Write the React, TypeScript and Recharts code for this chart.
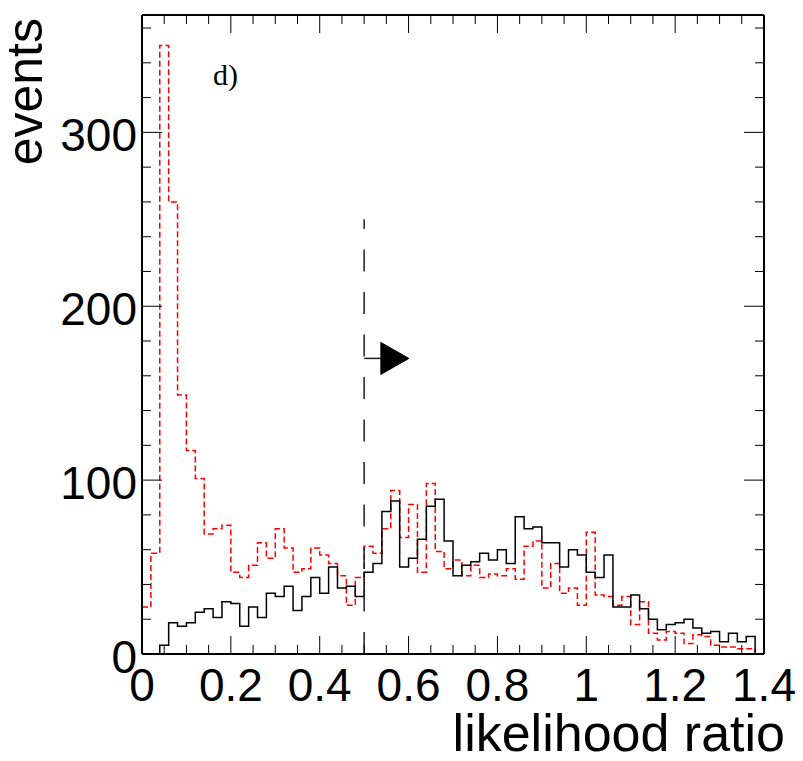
import React from 'react';
import {
  ComposedChart,
  Line,
  XAxis,
  YAxis,
  ReferenceLine,
  ReferenceDot,
  Label,
} from 'recharts';

// ---- data ----
const BIN_WIDTH = 0.02;
const X_MAX = 1.4;
const Y_MAX = 367.5;

// signal-like (black, solid) histogram, one value per 0.02 bin from 0 to 1.40
const blackCounts = [
  0, 0, 5, 18, 16, 18, 24, 26, 21, 30,
  29, 16, 27, 21, 35, 33, 39, 25, 33, 44,
  35, 50, 38, 39, 33, 47, 52, 82, 88, 50,
  55, 66, 85, 89, 65, 45, 51, 53, 58, 54,
  60, 52, 79, 72, 73, 64, 64, 50, 60, 57,
  47, 44, 57, 27, 27, 34, 26, 20, 14, 17,
  18, 20, 15, 12, 13, 7, 12, 7, 10, 0,
];

// background-like (red, dashed) histogram
const redCounts = [
  27, 58, 350, 260, 149, 117, 101, 69, 72, 74,
  47, 44, 51, 64, 55, 72, 61, 47, 49, 61,
  57, 52, 45, 28, 44, 62, 58, 72, 94, 67,
  86, 47, 98, 59, 49, 54, 45, 51, 44, 46,
  45, 49, 43, 62, 65, 38, 52, 35, 38, 28,
  70, 34, 33, 28, 33, 17, 30, 12, 8, 13,
  12, 6, 11, 10, 5, 4, 4, 3, 3, 0,
];

const xMajorTicks = [0, 0.2, 0.4, 0.6, 0.8, 1, 1.2, 1.4];
const xTickLabels = ['0', '0.2', '0.4', '0.6', '0.8', '1', '1.2', '1.4'];
const xMinorStep = 0.05;
const yMajorTicks = [0, 100, 200, 300];
const yTickLabels = ['0', '100', '200', '300'];
const yMinorStep = 20;

const CUT_X = 0.5;
const CUT_TOP = 250;
const ARROW_Y = 170;
const ARROW_END_X = 0.5376;

const xTicks: number[] = [];
for (let i = 0; i * xMinorStep <= X_MAX + 1e-9; i++) xTicks.push(Number((i * xMinorStep).toFixed(2)));
const yTicks: number[] = [];
for (let v = 0; v <= Y_MAX; v += yMinorStep) yTicks.push(v);

const data = blackCounts.map((b, i) => ({
  x: Number((i * BIN_WIDTH).toFixed(2)),
  black: b,
  red: redCounts[i],
}));
data.push({ x: X_MAX, black: 0, red: 0 });

const FONT = '"Liberation Sans", Arial, Helvetica, sans-serif';
const TICK_FONT = 46;
const MAJOR_LEN = 18;
const MINOR_LEN = 9;

const isXMajor = (v: number) => xMajorTicks.some((m) => Math.abs(m - v) < 1e-6);
const xLabel = (v: number) => xTickLabels[xMajorTicks.findIndex((m) => Math.abs(m - v) < 1e-6)];
const isYMajor = (v: number) => yMajorTicks.includes(v);
const yLabel = (v: number) => yTickLabels[yMajorTicks.indexOf(v)];

const BottomTick = (props: any) => {
  const { x, y, payload } = props;
  const v = payload.value;
  const major = isXMajor(v);
  return (
    <g>
      <line x1={x} y1={y} x2={x} y2={y - (major ? MAJOR_LEN : MINOR_LEN)} stroke="#000" strokeWidth={1} />
      {major && (
        <text x={x} y={y + 47} textAnchor="middle" fontFamily={FONT} fontSize={TICK_FONT} fill="#000">
          {xLabel(v)}
        </text>
      )}
    </g>
  );
};

const TopTick = (props: any) => {
  const { x, y, payload } = props;
  const major = isXMajor(payload.value);
  return <line x1={x} y1={y} x2={x} y2={y + (major ? MAJOR_LEN : MINOR_LEN)} stroke="#000" strokeWidth={1} />;
};

const LeftTick = (props: any) => {
  const { x, y, payload } = props;
  const v = payload.value;
  const major = isYMajor(v);
  return (
    <g>
      <line x1={x} y1={y} x2={x + (major ? MAJOR_LEN + 2 : MINOR_LEN)} y2={y} stroke="#000" strokeWidth={1} />
      {major && (
        <text x={x - 5} y={y + 19} textAnchor="end" fontFamily={FONT} fontSize={TICK_FONT} fill="#000">
          {yLabel(v)}
        </text>
      )}
    </g>
  );
};

const RightTick = (props: any) => {
  const { x, y, payload } = props;
  const major = isYMajor(payload.value);
  return <line x1={x} y1={y} x2={x - (major ? MAJOR_LEN + 2 : MINOR_LEN)} y2={y} stroke="#000" strokeWidth={1} />;
};

const ArrowHead = (props: any) => {
  const { cx, cy } = props;
  if (cx == null || cy == null) return null;
  return <polygon points={`${cx},${cy - 16} ${cx},${cy + 16} ${cx + 28},${cy}`} fill="#000" stroke="#000" />;
};

export default function App() {
  return (
    <div style={{ position: 'absolute', left: 0, top: 0, width: 803, height: 761, background: '#fff' }}>
      <ComposedChart
        width={803}
        height={761}
        data={data}
        margin={{ top: 0, right: 0, bottom: 0, left: 0 }}
      >
        <XAxis
          xAxisId="b"
          dataKey="x"
          type="number"
          orientation="bottom"
          domain={[0, X_MAX]}
          allowDataOverflow
          ticks={xTicks}
          interval={0}
          height={107}
          tickSize={0}
          tickMargin={0}
          tickLine={false}
          axisLine={{ stroke: '#000', strokeWidth: 2 }}
          tick={<BottomTick />}
        >
          <Label
            content={() => (
              <text x={785} y={751} textAnchor="end" fontFamily={FONT} fontSize={52} fill="#000">
                likelihood ratio
              </text>
            )}
          />
        </XAxis>
        <XAxis
          xAxisId="t"
          dataKey="x"
          type="number"
          orientation="top"
          domain={[0, X_MAX]}
          allowDataOverflow
          ticks={xTicks}
          interval={0}
          height={15}
          tickSize={0}
          tickMargin={0}
          tickLine={false}
          axisLine={{ stroke: '#000', strokeWidth: 2 }}
          tick={<TopTick />}
        />
        <YAxis
          yAxisId="l"
          type="number"
          orientation="left"
          domain={[0, Y_MAX]}
          allowDataOverflow
          ticks={yTicks}
          interval={0}
          width={142}
          tickSize={0}
          tickMargin={0}
          tickLine={false}
          axisLine={{ stroke: '#000', strokeWidth: 2 }}
          tick={<LeftTick />}
        >
          <Label
            content={() => (
              <text
                x={42}
                y={18}
                transform="rotate(-90 42 18)"
                textAnchor="end"
                fontFamily={FONT}
                fontSize={50}
                fill="#000"
              >
                events
              </text>
            )}
          />
        </YAxis>
        <YAxis
          yAxisId="r"
          type="number"
          orientation="right"
          domain={[0, Y_MAX]}
          allowDataOverflow
          ticks={yTicks}
          interval={0}
          width={39}
          tickSize={0}
          tickMargin={0}
          tickLine={false}
          axisLine={{ stroke: '#000', strokeWidth: 2 }}
          tick={<RightTick />}
        />

        <Line
          xAxisId="b"
          yAxisId="l"
          type="stepAfter"
          dataKey="red"
          stroke="#ff0000"
          strokeWidth={1.5}
          strokeDasharray="6 3"
          dot={false}
          activeDot={false}
          isAnimationActive={false}
        />
        <Line
          xAxisId="b"
          yAxisId="l"
          type="stepAfter"
          dataKey="black"
          stroke="#000"
          strokeWidth={1.5}
          dot={false}
          activeDot={false}
          isAnimationActive={false}
        />

        <ReferenceLine
          xAxisId="b"
          yAxisId="l"
          segment={[{ x: CUT_X, y: 0 }, { x: CUT_X, y: CUT_TOP }]}
          stroke="#222"
          strokeWidth={1.5}
          strokeDasharray="22 20.5"
        />
        <ReferenceLine
          xAxisId="b"
          yAxisId="l"
          segment={[{ x: CUT_X, y: ARROW_Y }, { x: ARROW_END_X, y: ARROW_Y }]}
          stroke="#222"
          strokeWidth={1.5}
        />
        <ReferenceDot
          xAxisId="b"
          yAxisId="l"
          x={ARROW_END_X}
          y={ARROW_Y}
          r={16}
          shape={<ArrowHead />}
        />
        <ReferenceDot
          xAxisId="b"
          yAxisId="l"
          x={0.16}
          y={335}
          r={0}
          fill="none"
          stroke="none"
          label={(p: any) => (
            <text x={213} y={85} fontFamily='"Liberation Serif", "Times New Roman", serif' fontSize={30} fill="#000">
              d)
            </text>
          )}
        />
      </ComposedChart>
    </div>
  );
}
